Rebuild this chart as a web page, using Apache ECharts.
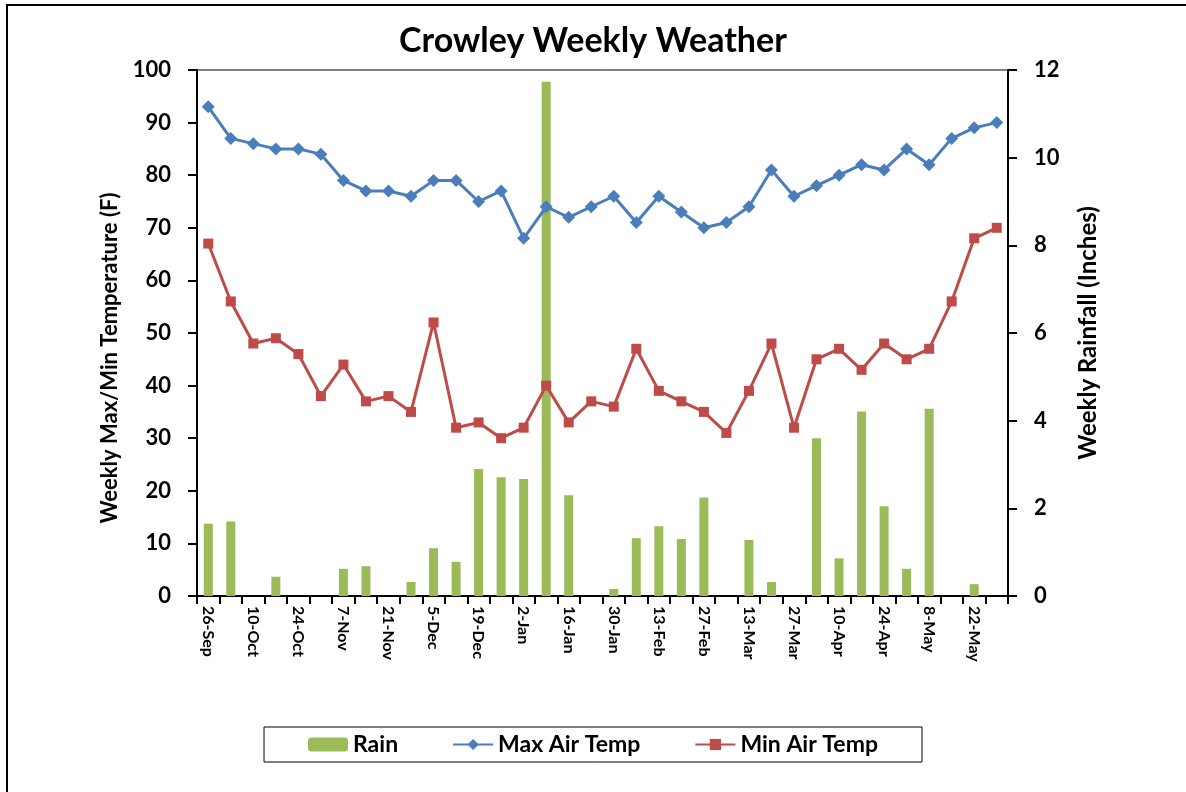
<!DOCTYPE html>
<html>
  <head>
    <meta charset="utf-8" />
    <title>Crowley Weekly Weather</title>
    <script src="https://cdn.jsdelivr.net/npm/echarts@6/dist/echarts.min.js"></script>
    <style type="text/css">
      html, body { margin: 0; padding: 0; background: #fff; }
    </style>
  </head>
  <body>
    <div id="main" style="width: 1186px; height: 792px"></div>
    <script type="text/javascript">
      // weekly dates
      var weeks = [
        "26-Sep", "3-Oct", "10-Oct", "17-Oct", "24-Oct", "31-Oct",
        "7-Nov", "14-Nov", "21-Nov", "28-Nov", "5-Dec", "12-Dec",
        "19-Dec", "26-Dec", "2-Jan", "9-Jan", "16-Jan", "23-Jan",
        "30-Jan", "6-Feb", "13-Feb", "20-Feb", "27-Feb", "6-Mar",
        "13-Mar", "20-Mar", "27-Mar", "3-Apr", "10-Apr", "17-Apr",
        "24-Apr", "1-May", "8-May", "15-May", "22-May", "29-May"
      ];
      // inches
      var rain = [
        1.65, 1.70, 0, 0.44, 0, 0,
        0.62, 0.68, 0, 0.32, 1.09, 0.78,
        2.90, 2.71, 2.67, 11.73, 2.30, 0,
        0.16, 1.32, 1.59, 1.30, 2.25, 0,
        1.28, 0.32, 0, 3.60, 0.86, 4.21,
        2.05, 0.62, 4.27, 0, 0.27, 0
      ];
      // deg F
      var maxTemp = [
        93, 87, 86, 85, 85, 84,
        79, 77, 77, 76, 79, 79,
        75, 77, 68, 74, 72, 74,
        76, 71, 76, 73, 70, 71,
        74, 81, 76, 78, 80, 82,
        81, 85, 82, 87, 89, 90
      ];
      var minTemp = [
        67, 56, 48, 49, 46, 38,
        44, 37, 38, 35, 52, 32,
        33, 30, 32, 40, 33, 37,
        36, 47, 39, 37, 35, 31,
        39, 48, 32, 45, 47, 43,
        48, 45, 47, 56, 68, 70
      ];

      var FONT = "Lato";
      var myChart = echarts.init(document.getElementById("main"));

      var axisLine = { show: true, lineStyle: { color: "#000", width: 2 } };
      var axisTick = { show: true, length: 9, lineStyle: { color: "#000", width: 2 } };
      var labelFont = { fontFamily: FONT, fontSize: 22, fontWeight: "bold", color: "#000" };

      var option = {
        backgroundColor: "#fff",
        textStyle: { fontFamily: FONT },
        graphic: [
          {
            type: "rect",
            shape: { x: 7, y: 5, width: 1300, height: 900 },
            style: { fill: "none", stroke: "#000", lineWidth: 2 },
            silent: true
          }
        ],
        title: {
          text: "Crowley Weekly Weather",
          left: "center",
          top: 19,
          textStyle: { fontFamily: FONT, fontSize: 34, fontWeight: "bold", color: "#000" }
        },
        grid: {
          left: 197,
          right: 178,
          top: 70,
          bottom: 196,
          show: true,
          borderColor: "#000",
          borderWidth: 1,
          backgroundColor: "transparent"
        },
        legend: {
          top: 727,
          left: "center",
          padding: [6, 44, 6, 44],
          itemGap: 54,
          itemWidth: 40,
          itemHeight: 14,
          borderColor: "#000",
          borderWidth: 1,
          textStyle: { fontFamily: FONT, fontSize: 23, fontWeight: "bold", color: "#000" },
          data: ["Rain", "Max Air Temp", "Min Air Temp"]
        },
        xAxis: {
          type: "category",
          data: weeks,
          boundaryGap: true,
          axisLine: axisLine,
          axisTick: { show: true, length: 8, interval: 0, lineStyle: { color: "#000", width: 2 } },
          axisLabel: {
            interval: 1,
            rotate: -90,
            margin: 10,
            fontFamily: FONT,
            fontSize: 16,
            fontWeight: "bold",
            color: "#000"
          },
          splitLine: { show: false }
        },
        yAxis: [
          {
            type: "value",
            min: 0,
            max: 100,
            interval: 10,
            name: "Weekly Max/Min Temperature (F)",
            nameLocation: "middle",
            nameGap: 76,
            nameTextStyle: {
              fontFamily: FONT, fontSize: 22, fontWeight: "bold", color: "#000",
              padding: [0, 50, 0, 0]
            },
            axisLine: axisLine,
            axisTick: axisTick,
            axisLabel: Object.assign({ margin: 26 }, labelFont),
            splitLine: { show: false }
          },
          {
            type: "value",
            min: 0,
            max: 12,
            interval: 2,
            position: "right",
            name: "Weekly Rainfall (Inches)",
            nameLocation: "middle",
            nameGap: 68,
            nameRotate: 90,
            nameTextStyle: { fontFamily: FONT, fontSize: 24, fontWeight: "bold", color: "#000" },
            axisLine: axisLine,
            axisTick: axisTick,
            axisLabel: Object.assign({ margin: 26 }, labelFont),
            splitLine: { show: false }
          }
        ],
        series: [
          {
            name: "Rain",
            type: "bar",
            yAxisIndex: 1,
            data: rain,
            barWidth: 9,
            itemStyle: { color: "#9BBB59" },
            z: 1
          },
          {
            name: "Max Air Temp",
            type: "line",
            yAxisIndex: 0,
            data: maxTemp,
            symbol: "diamond",
            symbolSize: 13,
            showAllSymbol: true,
            lineStyle: { color: "#4A7EBB", width: 3 },
            itemStyle: { color: "#4A7EBB" },
            z: 3
          },
          {
            name: "Min Air Temp",
            type: "line",
            yAxisIndex: 0,
            data: minTemp,
            symbol: "rect",
            symbolSize: 10,
            showAllSymbol: true,
            lineStyle: { color: "#BE4B48", width: 3 },
            itemStyle: { color: "#BE4B48" },
            z: 3
          }
        ]
      };

      myChart.setOption(option);
    </script>
  </body>
</html>
